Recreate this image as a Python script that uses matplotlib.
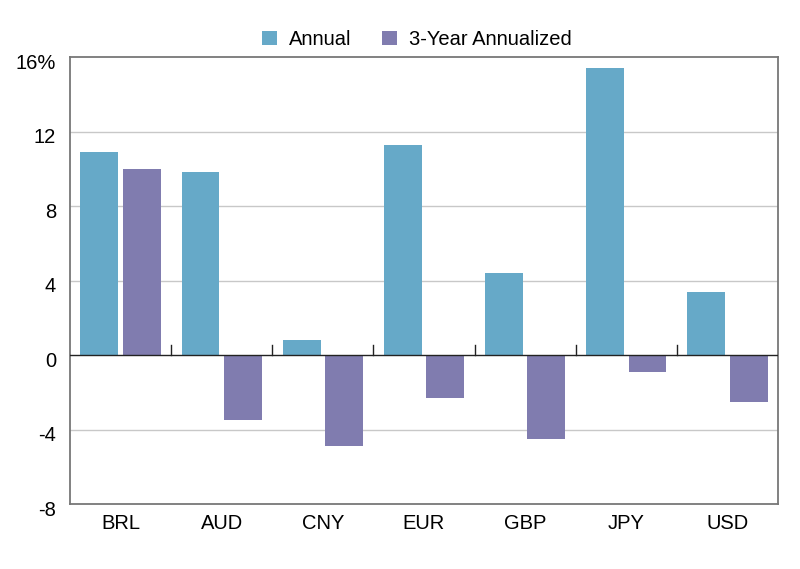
import matplotlib.pyplot as plt
import matplotlib.transforms as mtransforms
import numpy as np

plt.rcParams['font.family'] = ['Liberation Sans', 'DejaVu Sans']

currencies = ["BRL", "AUD", "CNY", "EUR", "GBP", "JPY", "USD"]
annual = [10.9, 9.8, 0.8, 11.3, 4.4, 15.4, 3.4]
three_year = [10.0, -3.5, -4.9, -2.3, -4.5, -0.9, -2.5]
y_ticks = [-8, -4, 0, 4, 8, 12, 16]
y_labels = ["-8", "-4", "0", "4", "8", "12", "16%"]

c_annual = "#66a9c8"
c_3yr = "#807caf"

fig = plt.figure(figsize=(8, 5.69), dpi=100)
ax = fig.add_axes([0.0875, 0.1142, 0.885, 0.7856])

x = np.arange(len(currencies))
w = 0.375
ax.bar(x + 0.29, annual, width=w, color=c_annual, label="Annual", zorder=3)
ax.bar(x + 0.71, three_year, width=w, color=c_3yr, label="3-Year Annualized", zorder=3)

ax.set_xlim(0, len(currencies))
ax.set_ylim(-8, 16)

# gridlines
for t in [-4, 4, 8, 12]:
    ax.axhline(t, color="#c8c8c8", lw=1, zorder=1)
ax.axhline(0, color="#222222", lw=1, zorder=4)

# small separator ticks on the zero line
for b in range(1, len(currencies)):
    ax.plot([b, b], [0, 0.55], color="#222222", lw=1, zorder=4)

fs = 14.5
ax.set_yticks(y_ticks)
ax.set_yticklabels(y_labels, fontsize=fs)
ax.set_xticks(x + 0.5)
ax.set_xticklabels(currencies, fontsize=fs)
ax.tick_params(axis="y", length=0, pad=10)
ax.tick_params(axis="x", length=0, pad=7)

# nudge y labels down a little, like the original
offset = mtransforms.ScaledTranslation(0, -4 / 100, fig.dpi_scale_trans)
for lab in ax.get_yticklabels():
    lab.set_transform(lab.get_transform() + offset)

for s in ax.spines.values():
    s.set_color("#777777")
    s.set_linewidth(1.3)

ax.legend(loc="lower center", bbox_to_anchor=(0.49, 1.0), ncol=2, frameon=False,
          fontsize=fs, handlelength=0.75, handleheight=0.75, handletextpad=0.6,
          columnspacing=1.5, borderaxespad=0.0)

fig.savefig("out.png", dpi=100)
